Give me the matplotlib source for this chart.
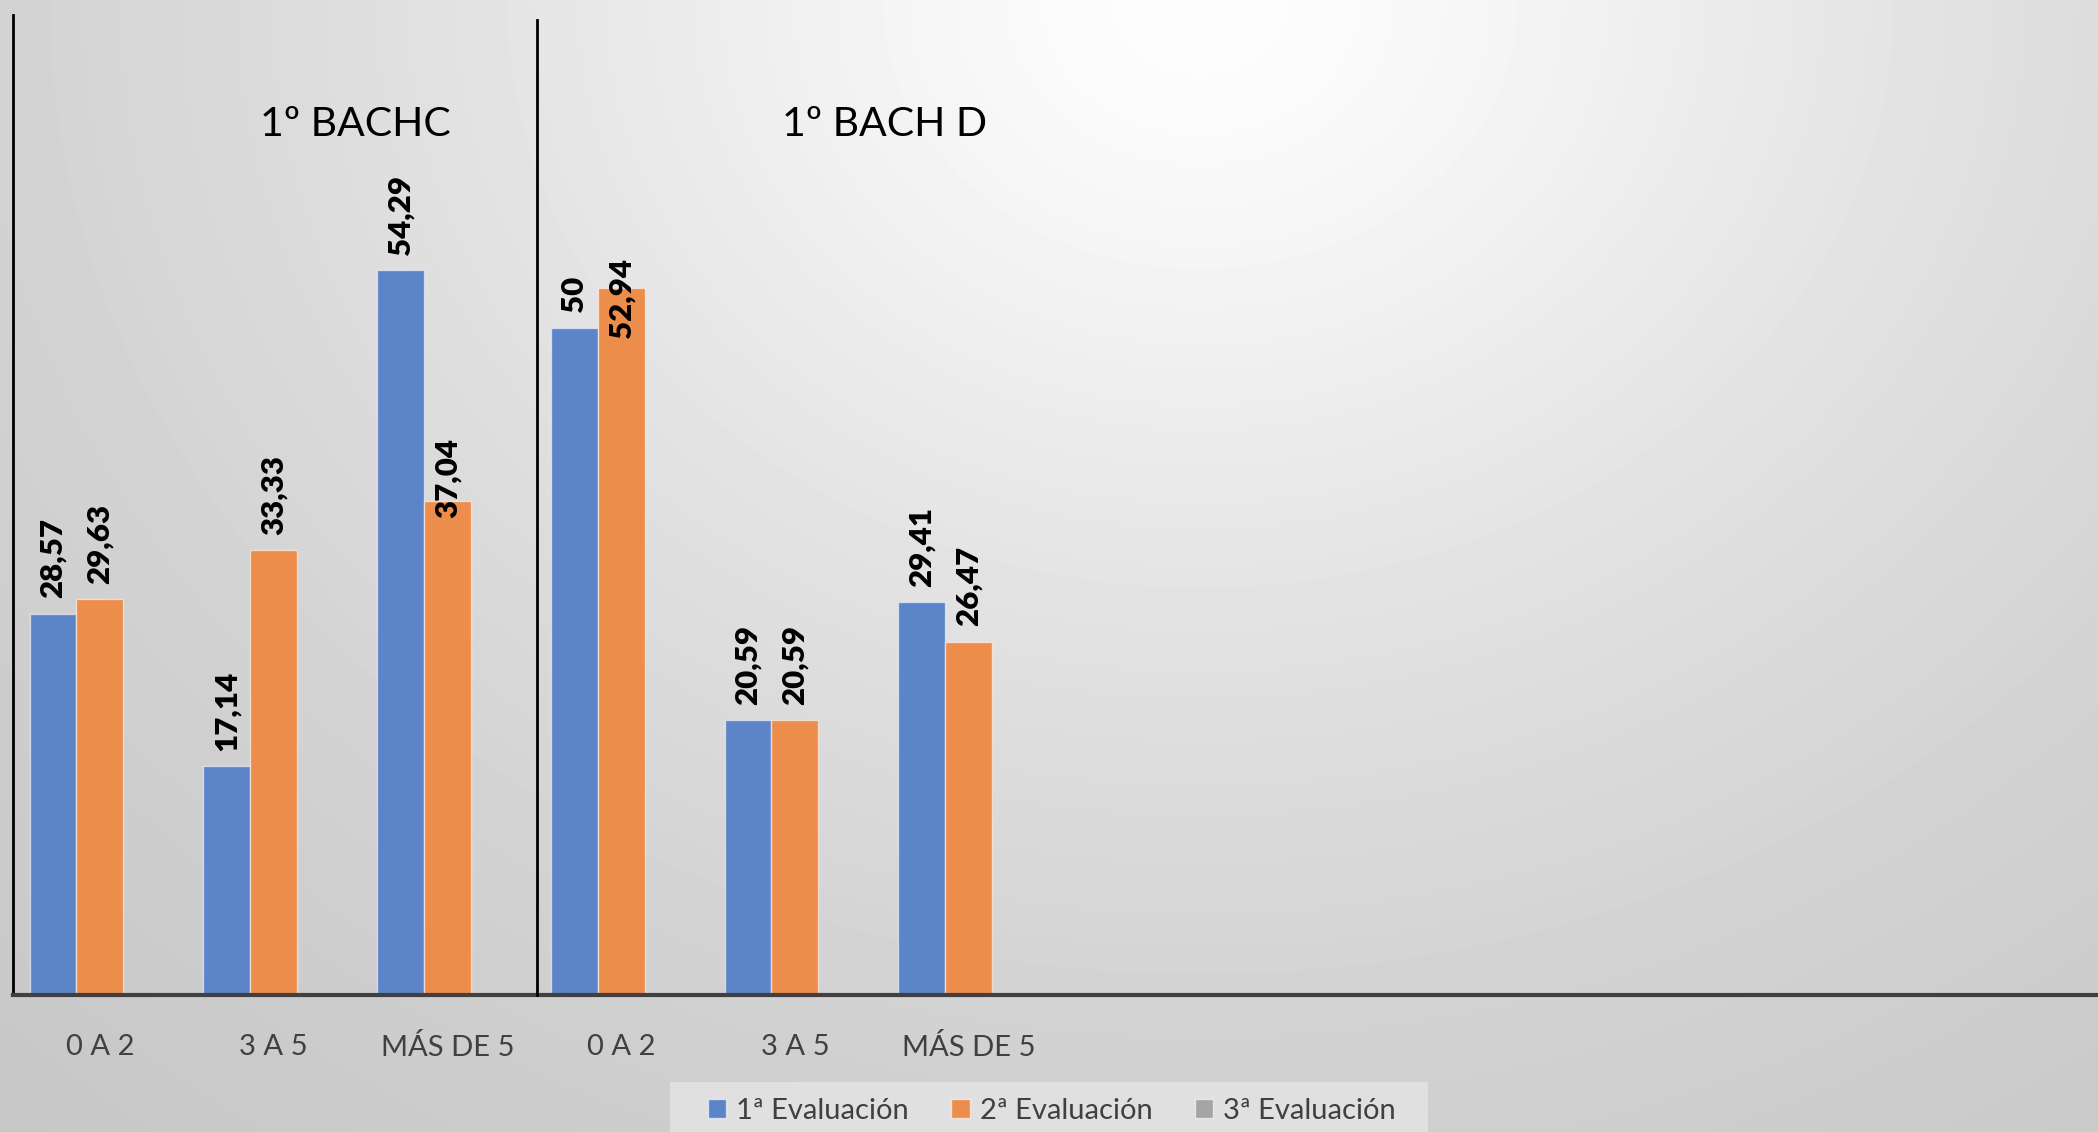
import matplotlib
matplotlib.use('Agg')
import matplotlib.pyplot as plt
from matplotlib.patches import Patch, Rectangle
from matplotlib.lines import Line2D
import numpy as np

plt.rcParams['font.family'] = ['Lato', 'DejaVu Sans']

# data (12 category slots, only 6 filled)
categories = ["0 A 2", "3 A 5", "MÁS DE 5", "0 A 2", "3 A 5", "MÁS DE 5",
              "", "", "", "", "", ""]
eval_1 = [28.57, 17.14, 54.29, 50, 20.59, 29.41]
eval_2 = [29.63, 33.33, 37.04, 52.94, 20.59, 26.47]
eval_3 = []
series_names = ["1ª Evaluación", "2ª Evaluación", "3ª Evaluación"]
group_titles = ["1º BACHC", "1º BACH D"]

colors = ["#5B84C9", "#ED8D4C", "#A5A5A5"]
W, H = 2098, 1132

fig = plt.figure(figsize=(W / 100, H / 100), dpi=100)

# background gradient (light spot at top, darker towards the corners)
bg = fig.add_axes([0, 0, 1, 1], zorder=0)
yy, xx = np.mgrid[0:H, 0:W]
d = np.sqrt(((xx - 1200) / 1300.0) ** 2 + (yy / 1100.0) ** 2)
d = np.sqrt(d ** 2 + 0.02) - np.sqrt(0.02)
v = np.clip(253 - 64 * np.tanh(d), 0, 255) / 255.0
bg.imshow(v, cmap='gray', vmin=0, vmax=1, aspect='auto', interpolation='bilinear')
bg.axis('off')

# main axes: axis line at y=995px, top at 15px
ax_bottom = (H - 995) / H
ax_top = (H - 15) / H
ax = fig.add_axes([13 / W, ax_bottom, 1 - 13 / W, ax_top - ax_bottom], zorder=1)
ax.set_facecolor('none')
px_per_unit = 13.35
ax.set_ylim(0, 980 / px_per_unit)
ax.set_xlim(-0.5, len(categories) - 0.5)

bw = 0.27
all_series = [eval_1, eval_2, eval_3]
# manual label nudges (points) where the original labels were moved
nudges = {(1, 2): -12.5, (1, 3): -36}
for s, vals in enumerate(all_series):
    if len(vals) == 0:
        continue
    x = np.arange(len(vals)) + (s - 1) * bw
    ax.bar(x, vals, bw, color=colors[s], edgecolor=(1, 1, 1, 0.55), linewidth=1, zorder=2)
    for i, val in enumerate(vals):
        if val == int(val):
            txt = str(int(val))
        else:
            txt = ("%.2f" % val).replace(".", ",")
        off = nudges.get((s, i), 11)
        ax.annotate(txt, xy=(x[i], val), xytext=(0, off), textcoords='offset points',
                    rotation=90, ha='center', va='bottom', fontsize=22.5,
                    fontweight='heavy', color='black', zorder=3)

ax.set_xticks(range(len(categories)))
ax.set_xticklabels(categories, fontsize=21, color='#404040')
ax.tick_params(axis='x', length=0, pad=28)
ax.set_yticks([])
for sp in ['top', 'right']:
    ax.spines[sp].set_visible(False)
ax.spines['bottom'].set_color('#404040')
ax.spines['bottom'].set_linewidth(3)
ax.spines['left'].set_color('black')
ax.spines['left'].set_linewidth(2)

# separator line between the two groups
fig.add_artist(Line2D([537 / W, 537 / W], [(H - 995) / H, (H - 20) / H],
                      transform=fig.transFigure, color='black', linewidth=2, zorder=4))

fig.text(355 / W, 1 - 124 / H, group_titles[0], fontsize=29.5, ha='center', va='center', color='black')
fig.text(885 / W, 1 - 124 / H, group_titles[1], fontsize=29.5, ha='center', va='center', color='black')

# legend box
fig.add_artist(Rectangle((670 / W, 0), (1428 - 670) / W, (H - 1082) / H, transform=fig.transFigure,
                         facecolor='#E0E0E0', edgecolor='none', zorder=4))
handles = [Patch(facecolor=colors[i], edgecolor=(1, 1, 1, 0.6), label=series_names[i]) for i in range(3)]
leg = fig.legend(handles=handles, loc='center', bbox_to_anchor=(1052 / W, 1 - 1111 / H), ncol=3,
                 fontsize=21, frameon=False, handlelength=0.62, handleheight=0.62,
                 handletextpad=0.35, columnspacing=1.45)
leg.set_zorder(5)
for t in leg.get_texts():
    t.set_color('#404040')

fig.savefig('out.png', dpi=100)
